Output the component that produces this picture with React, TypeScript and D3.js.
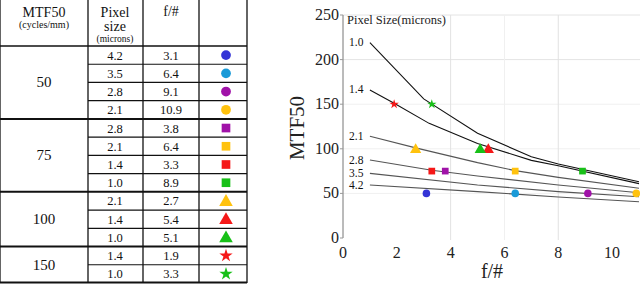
import * as d3 from 'd3';

// table rows (one per marker)
const mtfGroups = ['50', '75', '100', '150'];
const groupSizes = [4, 4, 3, 2];
const pixelSizes = ['4.2', '3.5', '2.8', '2.1', '2.8', '2.1', '1.4', '1.0', '2.1', '1.4', '1.0', '1.4', '1.0'];
const fNumbers = [3.1, 6.4, 9.1, 10.9, 3.8, 6.4, 3.3, 8.9, 2.7, 5.4, 5.1, 1.9, 3.3];
const mtfValues = [50, 50, 50, 50, 75, 75, 75, 75, 100, 100, 100, 150, 150];
const markerShapes = ['circle', 'circle', 'circle', 'circle', 'square', 'square', 'square', 'square', 'triangle', 'triangle', 'triangle', 'star', 'star'];
const markerColors = ['#3434d6', '#1a9ad8', '#a012a8', '#ffc20e', '#a012a8', '#ffc20e', '#f51818', '#18c018', '#ffc20e', '#f51818', '#18c018', '#f51818', '#18c018'];

// pixel size curves
const curveLabels = ['1.0', '1.4', '2.1', '2.8', '3.5', '4.2'];
const curve10F = [1, 3, 5, 7, 8, 11];
const curve10 = [219, 156, 117.5, 91, 83, 63];
const curve14F = [1, 1.9, 3.2, 5, 7, 8, 11];
const curve14 = [166, 151, 128.5, 106, 87, 81, 61];
const curve21F = [1, 2.7, 5, 6.4, 8, 11];
const curve21 = [114, 101, 84.5, 75.5, 68, 55.7];
const curve28F = [1, 3.3, 5, 8, 11];
const curve28 = [87.4, 76, 69.5, 59.4, 50.8];
const curve35F = [1, 5, 8, 11];
const curve35 = [72.5, 59.4, 52, 46.3];
const curve42F = [1, 5, 8, 11];
const curve42 = [59.4, 52, 46, 40.7];

const xTicks = [0, 2, 4, 6, 8, 10];
const yTicks = [0, 50, 100, 150, 200, 250];
const xGrid = [4, 6, 8];

const serif = '"Liberation Serif", "DejaVu Serif", serif';

function symbolPath(shape: string, size: number) {
  const type = shape === 'circle' ? d3.symbolCircle
    : shape === 'square' ? d3.symbolSquare
    : shape === 'triangle' ? d3.symbolTriangle
    : d3.symbolStar;
  return d3.symbol().type(type).size(size)() as string;
}

// marker area per shape, table vs chart
const tableSize: Record<string, number> = { circle: 75, square: 75, triangle: 80, star: 55 };
const chartSize: Record<string, number> = { circle: 45, square: 45, triangle: 55, star: 28 };

export default function App() {
  // chart scales
  const x = d3.scaleLinear().domain([0, 11]).range([343, 639]);
  const y = d3.scaleLinear().domain([0, 250]).range([238, 15]);

  const curves = [
    [curve10F, curve10], [curve14F, curve14], [curve21F, curve21],
    [curve28F, curve28], [curve35F, curve35], [curve42F, curve42],
  ];
  const line = d3.line<[number, number]>().x(d => x(d[0])).y(d => y(d[1]));

  // table layout
  const rowY = d3.scaleLinear().domain([0, 13]).range([46, 283]);
  const colX = [0, 88, 143, 199, 247];
  const groupStart: number[] = [];
  groupSizes.reduce((acc, n) => { groupStart.push(acc); return acc + n; }, 0);

  return (
    <svg width={640} height={284} style={{ position: 'absolute', left: 0, top: 0, background: '#fff' }}>
      {/* ---- table ---- */}
      <g fontFamily={serif} fill="#111" textAnchor="middle">
        <text x={44} y={17} fontSize={14}>MTF50</text>
        <text x={44} y={28} fontSize={10}>(cycles/mm)</text>
        <text x={115} y={17} fontSize={14}>Pixel</text>
        <text x={115} y={31} fontSize={14}>size</text>
        <text x={115} y={42} fontSize={9.5}>(microns)</text>
        <text x={171} y={16} fontSize={14}>f/#</text>

        {pixelSizes.map((p, i) => (
          <g key={i}>
            <text x={115} y={rowY(i + 0.5) + 4.5} fontSize={12.5}>{p}</text>
            <text x={171} y={rowY(i + 0.5) + 4.5} fontSize={12.5}>{fNumbers[i]}</text>
            <path d={symbolPath(markerShapes[i], tableSize[markerShapes[i]])}
              transform={`translate(226,${rowY(i + 0.5) + (markerShapes[i] === 'triangle' ? 1 : 0)})`}
              fill={markerColors[i]} />
          </g>
        ))}
        {mtfGroups.map((g, k) => (
          <text key={g} x={44} y={rowY(groupStart[k] + groupSizes[k] / 2) + 5} fontSize={15}>{g}</text>
        ))}
      </g>
      <g stroke="#111" fill="none">
        {colX.slice(1).map((cx, i) => (
          <line key={i} x1={cx} x2={cx} y1={0} y2={283} strokeWidth={1.3} />
        ))}
        <line x1={0} x2={0} y1={0} y2={283} strokeWidth={1.3} />
        <line x1={0} x2={247} y1={rowY(0)} y2={rowY(0)} strokeWidth={1.3} />
        {pixelSizes.map((_, i) => {
          if (i === 0) return null;
          const isGroup = groupStart.includes(i);
          return (
            <line key={i} x1={isGroup ? 0 : colX[1]} x2={247} y1={rowY(i)} y2={rowY(i)}
              strokeWidth={isGroup ? 2 : 1.2} />
          );
        })}
        <line x1={0} x2={247} y1={282.5} y2={282.5} strokeWidth={2} />
      </g>

      {/* ---- chart ---- */}
      <g>
        {yTicks.slice(1).map(t => (
          <line key={t} x1={x(0)} x2={640} y1={y(t)} y2={y(t)}
            stroke={t >= 200 ? '#e4e4e4' : '#f0f0f0'} strokeWidth={1} />
        ))}
        {xGrid.map(t => (
          <line key={t} x1={x(t)} x2={x(t)} y1={y(250)} y2={y(0) + 2}
            stroke={t === 6 ? '#f0f0f0' : '#e2e2e2'} strokeWidth={1} />
        ))}
        <line x1={x(0)} x2={x(0)} y1={y(250)} y2={y(0)} stroke="#777" strokeWidth={1} />
        {yTicks.map(t => (
          <line key={t} x1={x(0) - 3} x2={x(0)} y1={y(t)} y2={y(t)} stroke="#999" />
        ))}
      </g>
      <g fontFamily={serif} fill="#222" fontSize={16}>
        {yTicks.map(t => (
          <text key={t} x={339} y={y(t) + 5} textAnchor="end">{t}</text>
        ))}
        {xTicks.map(t => (
          <text key={t} x={x(t)} y={258} textAnchor="middle">{t}</text>
        ))}
        <text x={492} y={278} textAnchor="middle" fontSize={20}>f/#</text>
        <text transform="translate(304,128) rotate(-90)" textAnchor="middle" fontSize={21}>MTF50</text>
        <text x={347} y={24} fontSize={12.5}>Pixel Size(microns)</text>
      </g>

      {curves.map((c, i) => {
        const pts = (c[0] as number[]).map((f, j) => [f, (c[1] as number[])[j]] as [number, number]);
        return (
          <g key={i}>
            <path d={line(pts) as string} fill="none" stroke={i < 2 ? '#111' : '#555'} strokeWidth={1.1} />
            <text x={349} y={y(pts[0][1]) + 3.5} fontFamily={serif} fontSize={11.5} fill="#111">{curveLabels[i]}</text>
          </g>
        );
      })}

      {fNumbers.map((f, i) => (
        <path key={i}
          d={symbolPath(markerShapes[i], chartSize[markerShapes[i]])}
          transform={`translate(${x(f)},${y(mtfValues[i]) + (markerShapes[i] === 'triangle' ? 1 : 0)})`}
          fill={markerColors[i]} />
      ))}
    </svg>
  );
}
